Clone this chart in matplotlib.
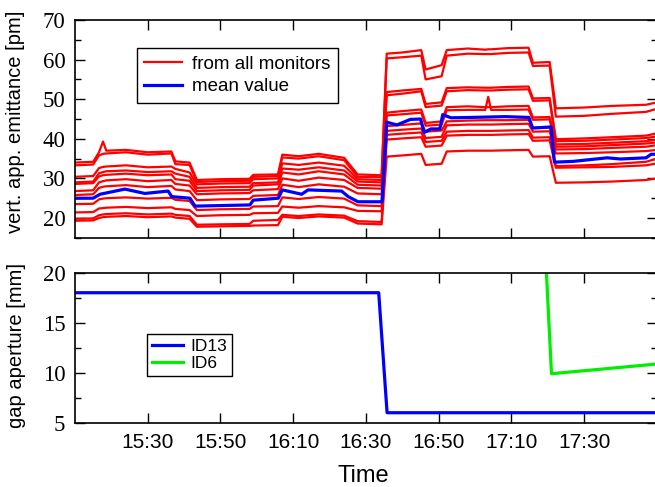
import matplotlib
matplotlib.use("Agg")
import matplotlib.pyplot as plt
from matplotlib.ticker import MultipleLocator

plt.rcParams['font.family'] = ['Liberation Sans', 'DejaVu Sans']

# time axis: minutes after 15:10
t0_label = '15:10'
tick_labels = ['15:30', '15:50', '16:10', '16:30', '16:50', '17:10', '17:30']

# knots shared by all monitor traces
knots = [0, 5, 6.6, 7.7, 8.6, 14, 20, 26.5, 27.6, 31.5,
         33.5, 40, 48, 49, 55.8, 57, 61.5, 67, 74, 77.7,
         84.3, 85.7, 90, 95.2, 96.4, 100.8, 102.2, 108, 112.8, 113.6,
         114.4, 119, 124.7, 125.9, 130.5, 132.2, 140, 147.5, 157, 160]

mon01 = [34.0, 34.2, 36.6, 39.3, 37.0, 37.2, 36.6, 36.8, 34.3, 34.0,
         29.6, 29.8, 29.9, 30.9, 31.0, 36.0, 35.6, 36.2, 35.2, 31.0,
         30.8, 61.5, 61.8, 62.4, 57.5, 58.6, 62.4, 62.8, 62.5, 62.6,
         62.6, 62.9, 63.0, 59.2, 59.4, 47.7, 47.9, 48.3, 48.6, 49.2]
mon02 = [33.3, 33.5, 35.8, 36.2, 36.3, 36.6, 36.0, 36.3, 33.6, 33.4,
         29.1, 29.3, 29.4, 30.4, 30.6, 35.3, 35.0, 35.6, 34.6, 30.4,
         30.3, 60.3, 60.6, 61.0, 55.0, 55.8, 61.0, 61.5, 61.4, 61.4,
         61.4, 61.7, 61.8, 58.4, 58.5, 45.6, 45.8, 46.3, 46.8, 47.6]
mon03 = [30.4, 30.6, 32.6, 32.9, 33.0, 33.3, 32.8, 33.0, 32.4, 31.5,
         28.5, 28.7, 28.8, 29.8, 30.0, 33.8, 33.4, 34.0, 33.2, 29.8,
         29.6, 51.8, 52.2, 52.6, 48.8, 49.2, 52.8, 53.0, 52.9, 52.9,
         52.9, 53.1, 53.2, 50.2, 50.3, 39.9, 40.1, 40.4, 40.8, 41.4]
mon04 = [29.0, 29.2, 31.3, 31.6, 31.8, 32.0, 31.6, 31.8, 31.2, 30.4,
         27.6, 27.8, 27.9, 28.8, 29.0, 32.5, 32.2, 32.8, 32.0, 29.2,
         29.0, 51.0, 51.4, 52.0, 48.0, 48.4, 52.0, 52.3, 52.2, 52.2,
         52.2, 52.4, 52.5, 49.6, 49.7, 39.4, 39.5, 39.8, 40.2, 40.6]
mon05 = [28.6, 28.8, 30.5, 30.8, 30.9, 31.2, 30.8, 31.0, 29.8, 29.4,
         26.8, 27.0, 27.1, 28.2, 28.5, 31.5, 31.0, 31.8, 31.0, 28.4,
         28.2, 46.6, 47.0, 47.4, 44.0, 44.4, 48.0, 48.2, 48.0, 48.0,
         48.0, 48.2, 48.3, 45.4, 45.5, 38.6, 38.7, 39.0, 39.4, 39.8]
mon06 = [26.8, 27.0, 29.0, 29.3, 29.5, 29.8, 29.3, 29.6, 28.6, 28.2,
         26.0, 26.2, 26.3, 27.0, 27.3, 30.0, 29.4, 30.2, 29.6, 27.6,
         27.4, 45.9, 46.2, 46.6, 43.3, 43.6, 47.2, 47.3, 47.3, 50.6,
         47.3, 47.3, 47.4, 44.8, 44.9, 38.0, 38.1, 38.4, 38.8, 39.1]
mon07 = [25.8, 26.0, 27.6, 27.9, 28.0, 28.3, 27.8, 28.1, 27.2, 26.8,
         24.5, 24.7, 24.8, 25.6, 25.8, 28.4, 27.8, 28.5, 27.9, 26.2,
         26.0, 43.2, 43.5, 43.9, 41.8, 42.1, 44.4, 44.6, 44.7, 44.7,
         44.7, 44.7, 44.8, 42.8, 42.9, 37.3, 37.4, 37.7, 38.0, 38.4]
mon08 = [23.5, 23.6, 24.7, 24.9, 25.0, 25.2, 24.9, 25.1, 24.6, 24.3,
         22.0, 22.2, 22.3, 22.9, 23.0, 25.2, 24.8, 25.3, 24.9, 23.2,
         23.0, 42.0, 42.3, 42.6, 40.2, 40.5, 43.4, 43.6, 43.6, 43.6,
         43.6, 43.7, 43.8, 41.8, 41.9, 36.3, 36.4, 36.6, 36.9, 37.2]
mon09 = [21.4, 21.5, 22.4, 22.5, 22.6, 22.8, 22.5, 22.7, 22.3, 22.0,
         20.5, 20.7, 20.8, 21.2, 21.3, 22.9, 22.6, 23.0, 22.7, 21.8,
         21.7, 41.0, 41.3, 41.6, 39.2, 39.5, 41.8, 42.0, 42.0, 42.0,
         42.0, 42.1, 42.2, 40.3, 40.4, 33.1, 33.3, 33.6, 34.2, 35.0]
mon10 = [19.8, 19.9, 20.7, 20.9, 21.0, 21.2, 20.9, 21.1, 20.8, 20.5,
         18.3, 18.4, 18.5, 19.3, 19.5, 20.8, 20.5, 20.9, 20.6, 19.2,
         19.0, 39.8, 40.1, 40.4, 38.0, 38.3, 40.8, 41.0, 41.0, 41.0,
         41.0, 41.1, 41.2, 39.5, 39.6, 32.7, 32.8, 32.9, 33.3, 33.8]
mon11 = [19.3, 19.4, 20.0, 20.2, 20.3, 20.5, 20.2, 20.4, 20.1, 19.8,
         17.8, 17.9, 18.0, 18.1, 18.2, 20.3, 20.0, 20.4, 20.1, 18.6,
         18.4, 35.5, 35.8, 36.2, 33.4, 33.7, 36.8, 37.0, 37.0, 37.0,
         37.0, 37.1, 37.2, 35.5, 35.6, 28.9, 29.0, 29.2, 29.6, 30.0]
monitors = [mon01, mon02, mon03, mon04, mon05, mon06, mon07, mon08, mon09, mon10, mon11]

mean_t = [0, 5.0, 6.9, 13.7, 19.2, 25.6, 26.6, 31.6, 33.0, 48.1,
          49.0, 55.9, 57.0, 62.3, 64.1, 73.3, 75.1, 77.8, 84.4, 85.7,
          88.5, 92.2, 95.0, 96.0, 97.8, 100.3, 101.1, 103.4, 109, 118.3,
          124.8, 125.8, 130.9, 131.8, 137, 146.3, 150, 157, 158.4, 160]
mean_v = [25.0, 25.0, 26.0, 27.3, 26.2, 26.8, 25.4, 25.0, 23.0, 23.3,
          24.5, 25.0, 27.1, 26.0, 27.1, 26.8, 25.4, 24.1, 24.1, 44.2,
          43.5, 44.9, 45.0, 41.6, 42.5, 42.5, 46.1, 45.3, 45.4, 45.6,
          45.4, 42.7, 43.0, 34.1, 34.3, 35.2, 34.9, 35.2, 36.1, 36.1]

# gap apertures [mm]
id13_t = [0, 83.5, 85.8, 160]
id13_v = [18, 18, 6, 6]
id6_t = [129.4, 131.0, 160]
id6_v = [21.5, 9.9, 10.87]


def to_min(s):
    h, m = s.split(':')
    h0, m0 = t0_label.split(':')
    return (int(h) * 60 + int(m)) - (int(h0) * 60 + int(m0))


fig = plt.figure(figsize=(6.55, 4.87), dpi=100)
ax1 = fig.add_axes([0.1145, 0.5117, 0.8885, 0.4472])
ax2 = fig.add_axes([0.1145, 0.1320, 0.8885, 0.3080])

for i, m in enumerate(monitors):
    ax1.plot(knots, m, color='#ff0000', lw=1.6,
             label='from all monitors' if i == 0 else None)
ax1.plot(mean_t, mean_v, color='#0000ff', lw=2.3, label='mean value')

ax2.plot(id13_t, id13_v, color='#0000ff', lw=2.3, label='ID13')
ax2.plot(id6_t, id6_v, color='#00ee00', lw=2.3, label='ID6')

ax1.set_ylim(15, 70)
ax2.set_ylim(5, 20)
ax1.yaxis.set_major_locator(MultipleLocator(10))
ax1.yaxis.set_minor_locator(MultipleLocator(5))
ax2.yaxis.set_major_locator(MultipleLocator(5))
ax2.yaxis.set_minor_locator(MultipleLocator(2.5))

xt = [to_min(s) for s in tick_labels]
for ax in (ax1, ax2):
    ax.set_xlim(0, 160)
    ax.set_xticks(xt)
    ax.tick_params(which='both', direction='in', top=True, right=True, width=1.0)
    ax.tick_params(which='major', length=7)
    ax.tick_params(which='minor', length=4)
    ax.tick_params(axis='y', pad=7, labelsize=16.5)
    for sp in ax.spines.values():
        sp.set_linewidth(1.2)
    for lab in ax.get_yticklabels():
        lab.set_fontfamily('Liberation Serif')

ax1.set_xticklabels([])
ax2.set_xticklabels(tick_labels)
ax2.tick_params(axis='x', pad=7.5, labelsize=15)

ax1.set_ylabel('vert. app. emittance [pm]', fontsize=14.5)
ax1.yaxis.set_label_coords(-0.086, 0.533)
ax2.set_ylabel('gap aperture [mm]', fontsize=14.5)
ax2.yaxis.set_label_coords(-0.084, 0.518)
ax2.set_xlabel('Time', fontsize=17)
ax2.xaxis.set_label_coords(0.495, -0.285)

leg1 = ax1.legend(loc='upper left', bbox_to_anchor=(0.1065, 0.8714), borderaxespad=0,
                  fontsize=13.5, fancybox=False, framealpha=1, edgecolor='black',
                  handlelength=2.0, handletextpad=0.55, borderpad=0.4, labelspacing=0.3)
leg1.get_frame().set_linewidth(1.0)
leg2 = ax2.legend(loc='upper left', bbox_to_anchor=(0.1237, 0.5913), borderaxespad=0,
                  fontsize=12.5, fancybox=False, framealpha=1, edgecolor='black',
                  handlelength=1.75, handletextpad=0.45, borderpad=0.3, labelspacing=0.1)
leg2.get_frame().set_linewidth(1.0)

fig.savefig('out.png', dpi=100)
